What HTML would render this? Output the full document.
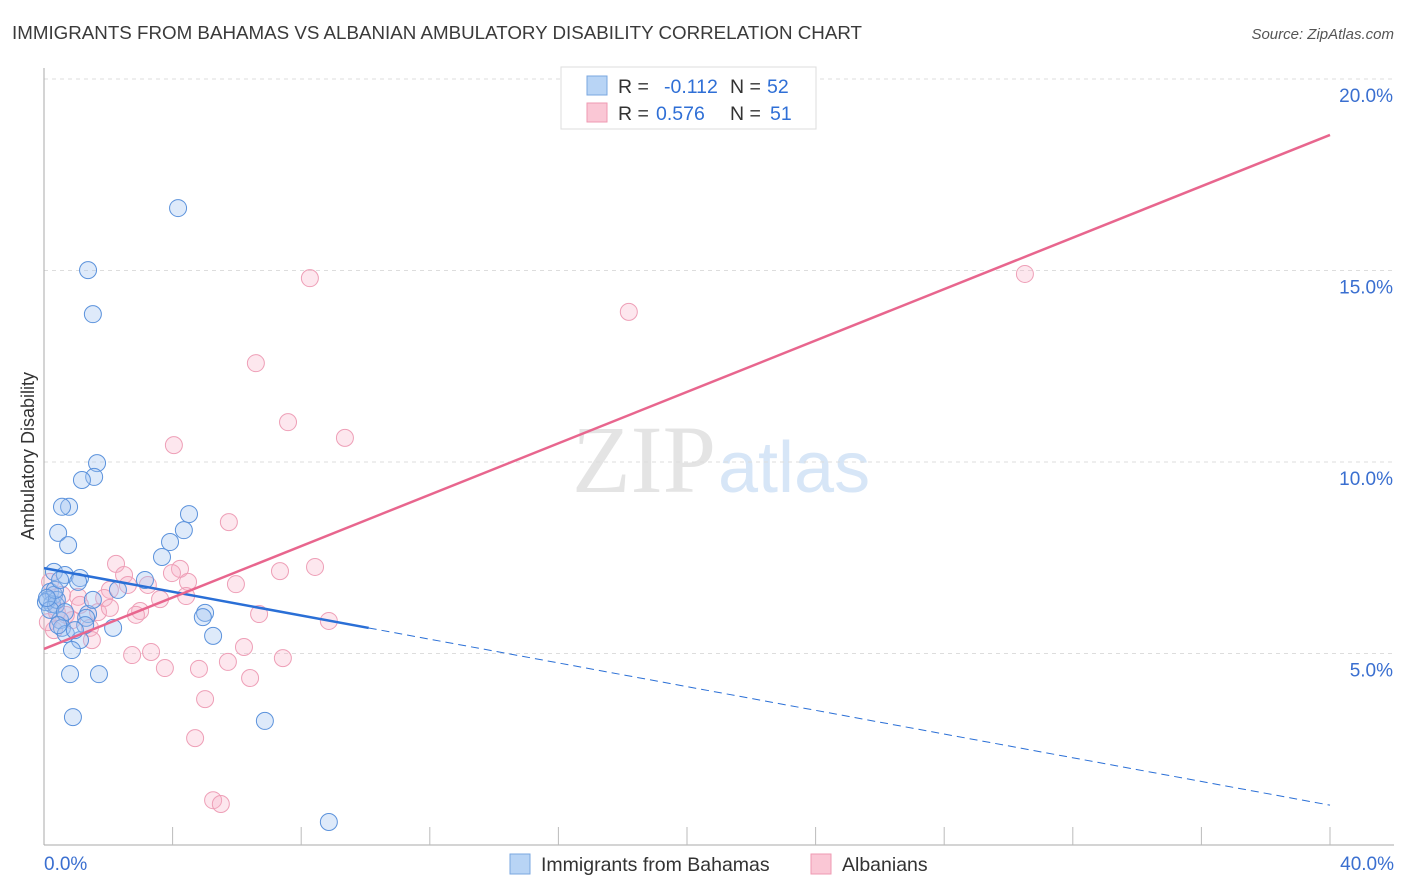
<!DOCTYPE html>
<html><head><meta charset="utf-8"><style>
body{margin:0;background:#fff;font-family:"Liberation Sans",sans-serif;}
svg{display:block}
</style></head><body>
<svg id="chart" width="1406" height="892" xmlns="http://www.w3.org/2000/svg" font-family="Liberation Sans, sans-serif">
<text x="12" y="39" font-size="18" fill="#3a3a3a" textLength="850" lengthAdjust="spacingAndGlyphs">IMMIGRANTS FROM BAHAMAS VS ALBANIAN AMBULATORY DISABILITY CORRELATION CHART</text>
<text x="1394" y="39" font-size="15" fill="#555" text-anchor="end" font-style="italic">Source: ZipAtlas.com</text>
<text x="716" y="492" font-size="96" fill="#e4e4e4" text-anchor="end" font-family="Liberation Serif, serif">ZIP</text>
<text x="718" y="492" font-size="72" fill="#d7e6f7">atlas</text>
<text transform="translate(34,456) rotate(-90)" font-size="18" fill="#333" text-anchor="middle">Ambulatory Disability</text>
<g id="grid"></g><g id="axes"></g><g id="pts"></g><g id="trend"></g>
<g>
<rect x="561" y="67" width="255" height="62" fill="#fff" stroke="#ddd"/>
<rect x="587" y="76" width="20" height="19" fill="#b8d4f5" stroke="#7aa7e0"/>
<rect x="587" y="103" width="20" height="19" fill="#fac7d5" stroke="#ef9ab2"/>
<text x="618" y="93" font-size="19.5" fill="#333">R = <tspan x="664" fill="#2f6fd6">-0.112</tspan><tspan x="730">N = </tspan><tspan x="767" fill="#2f6fd6">52</tspan></text>
<text x="618" y="120" font-size="19.5" fill="#333">R = <tspan x="656" fill="#2f6fd6">0.576</tspan><tspan x="730">N = </tspan><tspan x="770" fill="#2f6fd6">51</tspan></text>
</g>
<g>
<rect x="510" y="854" width="20" height="20" fill="#b8d4f5" stroke="#7aa7e0"/>
<text x="541" y="871" font-size="19.5" fill="#333">Immigrants from Bahamas</text>
<rect x="811" y="854" width="20" height="20" fill="#fac7d5" stroke="#ef9ab2"/>
<text x="842" y="871" font-size="19.5" fill="#333">Albanians</text>
</g>
</svg>
<script>
const yTicks=[5,10,15,20];
const yTickLabels=["5.0%","10.0%","15.0%","20.0%"];
const xTickLabels=["0.0%","40.0%"];
const bahamasX=[4.17,1.37,1.52,1.65,1.56,1.18,0.78,0.56,0.44,0.75,4.51,4.35,3.92,3.67,0.31,0.65,1.12,1.06,3.14,2.30,0.19,0.31,0.12,0.25,0.06,0.37,0.50,1.37,1.31,5.01,4.94,2.15,0.56,0.68,1.12,0.87,5.26,0.81,1.71,0.90,6.87,8.86,0.40,0.19,0.65,1.28,0.96,0.34,0.50,0.09,0.44,1.52];
const bahamasY=[16.63,15.01,13.86,9.97,9.61,9.53,8.83,8.83,8.15,7.83,8.64,8.22,7.91,7.52,7.13,7.05,6.97,6.87,6.92,6.66,6.61,6.53,6.40,6.29,6.34,6.27,5.87,6.03,5.93,6.06,5.95,5.67,5.67,5.51,5.35,5.09,5.46,4.46,4.46,3.34,3.24,0.60,6.40,6.14,6.08,5.74,5.61,6.66,6.92,6.45,5.74,6.40];
const albX=[8.27,30.51,18.19,6.59,7.59,9.36,4.04,5.75,2.24,8.43,7.34,4.23,2.49,3.98,5.97,3.23,4.48,2.61,2.05,3.61,4.42,1.87,1.06,2.99,1.68,2.86,6.69,8.86,1.43,0.31,0.12,0.40,0.87,1.49,0.68,2.74,3.33,6.22,7.43,3.76,4.82,5.72,6.41,5.01,4.70,5.26,5.50,0.56,2.05,1.12,0.19];
const albY=[14.80,14.91,13.92,12.58,11.04,10.63,10.44,8.43,7.34,7.26,7.15,7.21,7.05,7.10,6.81,6.79,6.87,6.79,6.66,6.42,6.50,6.45,6.48,6.11,6.08,6.01,6.03,5.85,5.67,5.61,5.82,6.08,5.87,5.35,6.01,4.96,5.04,5.17,4.88,4.62,4.60,4.78,4.36,3.81,2.79,1.17,1.07,6.53,6.19,6.27,6.87];
const bahamasTrend=[7.23,1.04];
const albTrend=[5.12,18.54];
const xs=v=>44+v/40*1286, ys=v=>845-v*38.3;
const NS="http://www.w3.org/2000/svg";
function mk(tag,parent,attrs){const e=document.createElementNS(NS,tag);for(const k in attrs)e.setAttribute(k,attrs[k]);document.getElementById(parent).appendChild(e);return e;}
yTicks.forEach((t,i)=>{
 const g=mk('line','grid',{x1:44,x2:1394,y1:ys(t),y2:ys(t),stroke:'#ddd','stroke-dasharray':'4,4'});
 
 
 const l=mk('text','axes',{x:1393,y:ys(t)+23,'font-size':19,fill:'#3a6fd0','text-anchor':'end'});
 l.textContent=yTickLabels[i];
 
 
});
const ax=mk('line','axes',{x1:44,x2:44,y1:68,y2:845,stroke:'#aaa'});


const bx=mk('line','axes',{x1:44,x2:1394,y1:845,y2:845,stroke:'#aaa'});


for(let i=1;i<=10;i++){const t=mk('line','axes',{x1:xs(i*4),x2:xs(i*4),y1:827,y2:845,stroke:'#bbb'});
 
 }
[[0,'start',44],[40,'end',1394]].forEach((p,i)=>{const l=mk('text','axes',{x:p[2],y:870,'font-size':19,fill:'#3a6fd0','text-anchor':p[1]});l.textContent=xTickLabels[i];
 
 });
albX.forEach((x,i)=>{const c=mk('circle','pts',{cx:xs(x),cy:ys(albY[i]),r:8.5,fill:'rgba(248,176,198,0.3)',stroke:'#ee9fb7','stroke-width':1});
 
 });
bahamasX.forEach((x,i)=>{const c=mk('circle','pts',{cx:xs(x),cy:ys(bahamasY[i]),r:8.5,fill:'rgba(160,196,240,0.35)',stroke:'#5b92dc','stroke-width':1});
 
 });
const by=x=>bahamasTrend[0]+(bahamasTrend[1]-bahamasTrend[0])*x/40;
const t1=mk('line','trend',{x1:xs(0),y1:ys(by(0)),x2:xs(10.1),y2:ys(by(10.1)),stroke:'#2a6fd6','stroke-width':2.5});


const t2=mk('line','trend',{x1:xs(10.1),y1:ys(by(10.1)),x2:xs(40),y2:ys(by(40)),stroke:'#2a6fd6','stroke-width':1,'stroke-dasharray':'8,5'});


const t3=mk('line','trend',{x1:xs(0),y1:ys(albTrend[0]),x2:xs(40),y2:ys(albTrend[1]),stroke:'#e8668e','stroke-width':2.5});


</script>
</body></html>
